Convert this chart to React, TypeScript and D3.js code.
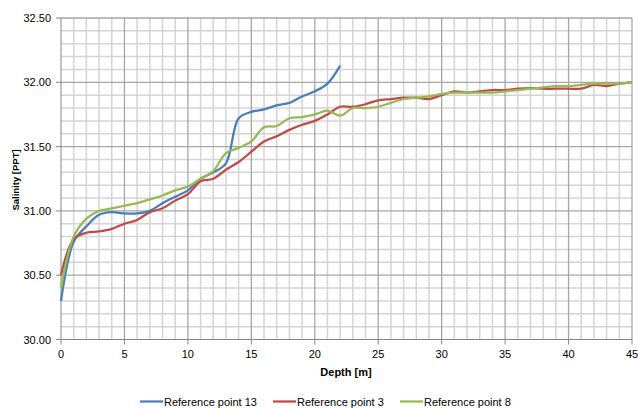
import React from "react";
import * as d3 from "d3";

const depthsBlue = d3.range(0, 23);
const salBlue = [30.30, 30.76, 30.88, 30.97, 30.99, 30.98, 30.98, 31.00, 31.06, 31.11, 31.16, 31.25, 31.30, 31.37, 31.72, 31.77, 31.79, 31.82, 31.84, 31.89, 31.93, 31.99, 32.13];
const depthsFull = d3.range(0, 46);
const salRed = [30.50, 30.78, 30.83, 30.84, 30.86, 30.90, 30.93, 30.99, 31.02, 31.08, 31.13, 31.23, 31.25, 31.32, 31.38, 31.46, 31.54, 31.58, 31.63, 31.67, 31.70, 31.75, 31.81, 31.81, 31.83, 31.86, 31.87, 31.88, 31.88, 31.87, 31.90, 31.93, 31.92, 31.93, 31.94, 31.94, 31.95, 31.955, 31.95, 31.95, 31.95, 31.95, 31.98, 31.97, 31.99, 32.00];
const salGreen = [30.40, 30.80, 30.94, 31.00, 31.02, 31.04, 31.06, 31.09, 31.12, 31.16, 31.19, 31.25, 31.31, 31.45, 31.49, 31.54, 31.65, 31.66, 31.72, 31.73, 31.75, 31.78, 31.74, 31.80, 31.80, 31.81, 31.84, 31.87, 31.88, 31.89, 31.91, 31.92, 31.92, 31.92, 31.92, 31.93, 31.94, 31.95, 31.96, 31.97, 31.97, 31.98, 31.99, 31.99, 31.99, 32.00];

const seriesNames = ["Reference point 13", "Reference point 3", "Reference point 8"];
const seriesColors = ["#4a7ebb", "#be4b48", "#98b954"];
const xTicks = [0, 5, 10, 15, 20, 25, 30, 35, 40, 45];
const yTicks = [30.0, 30.5, 31.0, 31.5, 32.0, 32.5];

export default function App() {
  const W = 638, H = 408;
  const x = d3.scaleLinear().domain([0, 45]).range([61, 632]);
  const y = d3.scaleLinear().domain([30, 32.5]).range([339.5, 18]);
  const line = d3
    .line<[number, number]>()
    .x((d) => x(d[0]))
    .y((d) => y(d[1]))
    .curve(d3.curveCatmullRom.alpha(0.5));

  const data: [number, number][][] = [
    depthsBlue.map((d, i) => [d, salBlue[i]]),
    depthsFull.map((d, i) => [d, salRed[i]]),
    depthsFull.map((d, i) => [d, salGreen[i]]),
  ];

  const minorX = d3.range(0, 46).filter((v) => v % 5 !== 0);
  const minorY = d3.range(0, 26).map((v) => 30 + v * 0.1).filter((_, i) => i % 5 !== 0);
  const font = "'Liberation Sans', Arial, sans-serif";

  const legendX = [140, 273, 400];

  return (
    <svg width={W} height={H} style={{ position: "absolute", left: 0, top: 0 }}>
      <rect x={0} y={0} width={W} height={H} fill="#fff" />
      {minorX.map((v) => (
        <line key={"mx" + v} x1={x(v)} x2={x(v)} y1={y(32.5)} y2={y(30)} stroke="#d4d4d4" strokeWidth={1.5} />
      ))}
      {minorY.map((v, i) => (
        <line key={"my" + i} x1={x(0)} x2={x(45)} y1={y(v)} y2={y(v)} stroke="#d4d4d4" strokeWidth={1.5} />
      ))}
      {xTicks.filter((v) => v !== 0).map((v) => (
        <line key={"Mx" + v} x1={x(v)} x2={x(v)} y1={y(32.5)} y2={y(30)} stroke="#a6a6a6" strokeWidth={1.3} />
      ))}
      {yTicks.filter((v) => v !== 30).map((v) => (
        <line key={"My" + v} x1={x(0)} x2={x(45)} y1={y(v)} y2={y(v)} stroke="#a6a6a6" strokeWidth={1.3} />
      ))}
      <line x1={x(0)} x2={x(0)} y1={y(32.5)} y2={y(30)} stroke="#868686" strokeWidth={1} />
      <line x1={x(0)} x2={x(45)} y1={y(30)} y2={y(30)} stroke="#868686" strokeWidth={1} />
      {xTicks.map((v) => (
        <g key={"xt" + v}>
          <line x1={x(v)} x2={x(v)} y1={y(30)} y2={y(30) + 5} stroke="#868686" />
          <text x={x(v)} y={358} textAnchor="middle" fontFamily={font} fontSize={11} fill="#000">
            {v}
          </text>
        </g>
      ))}
      {yTicks.map((v) => (
        <g key={"yt" + v}>
          <line x1={x(0) - 5} x2={x(0)} y1={y(v)} y2={y(v)} stroke="#868686" />
          <text x={51} y={y(v) + 4} textAnchor="end" fontFamily={font} fontSize={11} fill="#000">
            {v.toFixed(2)}
          </text>
        </g>
      ))}
      {data.map((d, i) => (
        <path key={"s" + i} d={line(d) || ""} fill="none" stroke={seriesColors[i]} strokeWidth={2.25} strokeLinejoin="round" />
      ))}
      <text x={346} y={376} textAnchor="middle" fontFamily={font} fontSize={11} fontWeight="bold">
        Depth [m]
      </text>
      <text
        transform={`translate(18.5,180) rotate(-90)`}
        textAnchor="middle"
        fontFamily={font}
        fontSize={9.5}
        fontWeight="bold"
      >
        Salinity [PPT]
      </text>
      {seriesNames.map((n, i) => (
        <g key={"lg" + i}>
          <line x1={legendX[i]} x2={legendX[i] + 23} y1={401.5} y2={401.5} stroke={seriesColors[i]} strokeWidth={2.25} />
          <text x={legendX[i] + 24} y={405.5} fontFamily={font} fontSize={11} fill="#000">
            {n}
          </text>
        </g>
      ))}
    </svg>
  );
}
